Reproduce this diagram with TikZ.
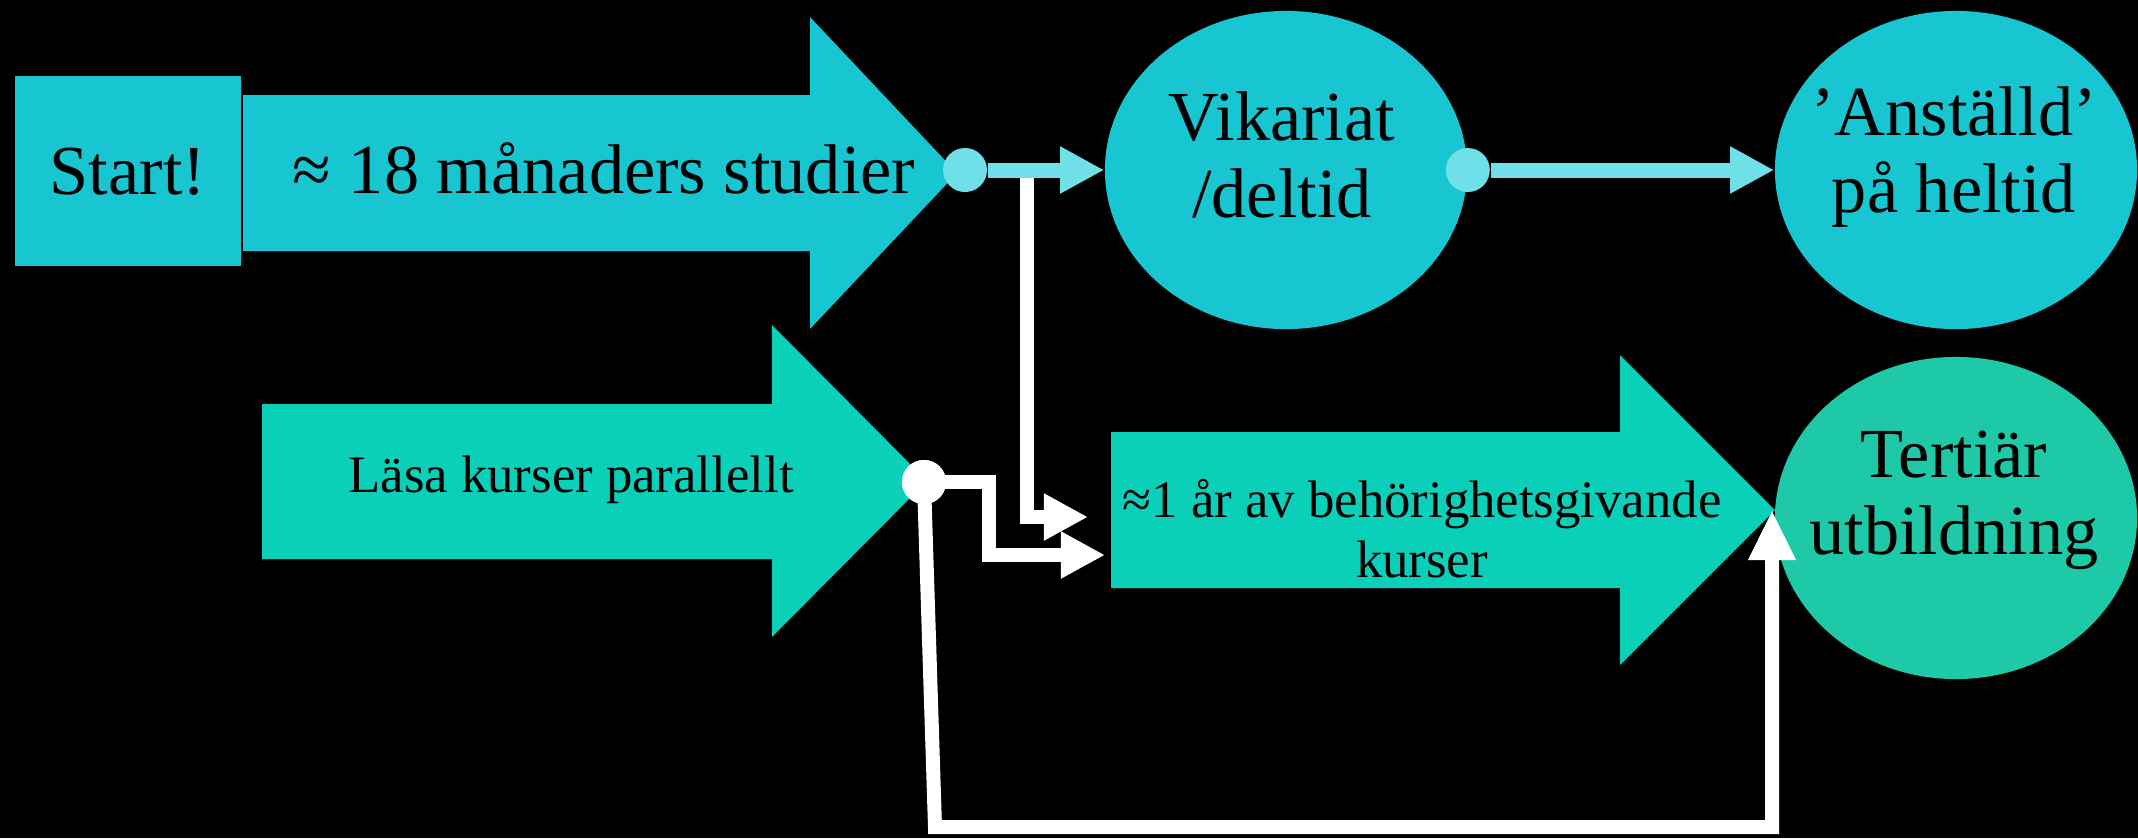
\documentclass[tikz,border=0pt]{standalone}
\usepackage{fontspec}
\setmainfont{Liberation Serif}
\usepackage{tikz}
\usetikzlibrary{arrows.meta, shapes.geometric, calc}
\definecolor{cyanbox}{RGB}{23, 198, 209}
\definecolor{lightcyan}{RGB}{111, 224, 232}
\definecolor{tealarrow}{RGB}{10, 207, 185}
\definecolor{tealblob}{RGB}{29, 201, 167}

\begin{document}
\begin{tikzpicture}[x=0.01cm, y=-0.01cm,
    bigtext/.style={font=\fontsize{20}{22}\selectfont, align=center, inner sep=0pt},
    smalltext/.style={font=\fontsize{15}{17}\selectfont, align=center, inner sep=0pt},
    blob/.style={ellipse, minimum width=3.62cm, minimum height=3.18cm, inner sep=0pt},
    dot/.style={circle, minimum size=0.44cm, inner sep=0pt},
    cyanline/.style={lightcyan, line width=0.15cm, -{Triangle[length=0.44cm, width=0.44cm]}},
    whiteline/.style={white, line width=0.14cm, -{Triangle[length=0.44cm, width=0.44cm]}}]
  \fill[black] (0, 0) rectangle (2138, 838);

  % block arrows
  \fill[cyanbox] (243, 95) -- (810, 95) -- (810, 17) -- (957, 173)
    -- (810, 329) -- (810, 251) -- (243, 251) -- cycle;
  \fill[tealarrow] (262, 404) -- (772, 404) -- (772, 325) -- (927, 481)
    -- (772, 637) -- (772, 559) -- (262, 559) -- cycle;
  \fill[tealarrow] (1111, 432) -- (1620, 432) -- (1620, 355) -- (1775, 510)
    -- (1620, 665) -- (1620, 588) -- (1111, 588) -- cycle;

  \node[fill=cyanbox, minimum width=2.26cm, minimum height=1.90cm, inner sep=0pt] (start) at (128, 171) {};
  \node[blob, fill=cyanbox] (vik) at (1286, 170) {};
  \node[blob, fill=cyanbox] (anst) at (1956, 170) {};
  \node[blob, fill=tealblob, minimum height=3.22cm] (tert) at (1956, 518) {};

  % white connectors
  \coordinate (split) at (1027, 170);
  \coordinate (tipa) at (1088, 517);
  \coordinate (tipb) at (1105, 555);
  \coordinate (tipc) at (1772, 510);
  \coordinate (low) at (935, 827);
  \node[dot, fill=white] (j3) at (924, 482) {};
  \draw[whiteline] (split) |- (tipa);
  \draw[whiteline] (j3.center) -- ++(65, 0) |- (tipb);
  \draw[whiteline, -{Triangle[length=0.5cm, width=0.44cm]}] (j3.center) -- (low) -| (tipc);
  \node[dot, fill=white] at (j3) {};

  % cyan connectors
  \node[dot, fill=lightcyan] (j1) at (965, 170) {};
  \node[dot, fill=lightcyan] (j2) at (vik.east) {};
  \draw[cyanline] (j1) -- (vik);
  \draw[cyanline] (j2) -- (anst);

  % texts
  \node[bigtext] (starttext) at (128, 172) {Start!};
  \node[bigtext] (studier) at (604, 168) {≈ 18 månaders studier};
  \node[bigtext] (viktext) at (1282, 155) {Vikariat\\/deltid};
  \node[bigtext] (anstext) at (1954, 157) {’Anställd’\\på heltid};
  \node[bigtext] (terttext) at (1954, 500) {Tertiär\\utbildning};
  \node[smalltext] (lasa) at (571, 480) {Läsa kurser parallellt};
  \node[smalltext] (kurser) at (1422, 529) {≈1 år av behörighetsgivande\\kurser};
\end{tikzpicture}
\end{document}
